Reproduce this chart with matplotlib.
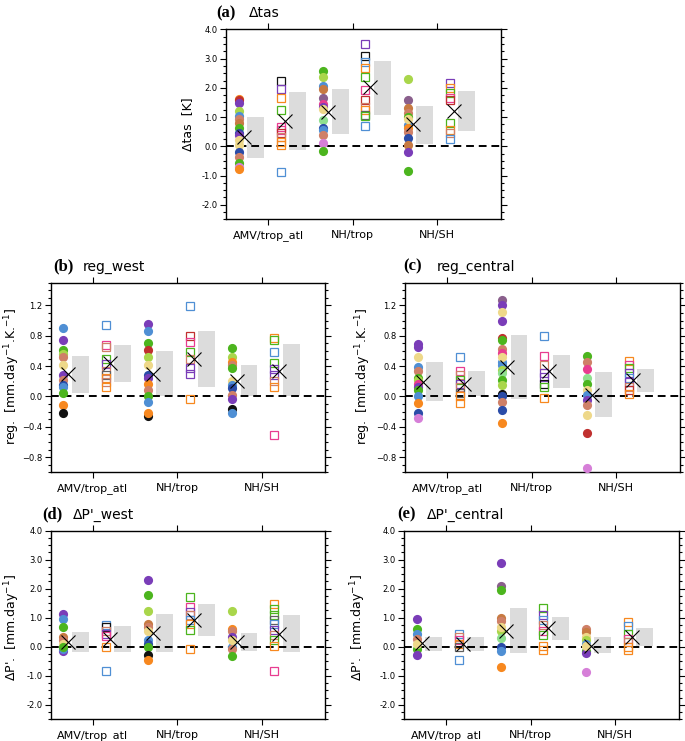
import numpy as np
import matplotlib.pyplot as plt
from matplotlib.ticker import MultipleLocator, FuncFormatter

categories = ['AMV/trop_atl', 'NH/trop', 'NH/SH']

# model colours (short keys used in the colour lists below)
colors = {
    'O': '#f7881f', 'B': '#4f8fd4', 'P': '#7a3db8', 'G': '#4cb51e',
    'L': '#a9d64b', 'K': '#eed889', 'N': '#c77a42', 'S': '#cf8068',
    'D': '#2b4ca8', 'R': '#c0302f', 'I': '#e83c90', 'C': '#d67fd8',
    'M': '#8fe08f', 'V': '#8a5f8c', 'X': '#111111', 'Y': '#606060',
}

# ---- (a) delta tas ----
a_circ = [
    [1.62, 1.58, 1.49, 1.21, 1.05, 0.92, 0.80, 0.62, 0.47, 0.38, 0.05, -0.18, -0.35, -0.57, -0.70, -0.78, 0.22],
    [2.59, 2.36, 2.06, 1.95, 1.64, 1.45, 1.36, 0.90, 0.62, 0.56, 0.39, 0.10, -0.15, 1.26],
    [2.30, 1.58, 1.30, 1.13, 1.01, 0.73, 0.62, 0.50, 0.27, 0.05, -0.20, -0.83, 0.93],
]
a_circ_col = [
    ['O', 'R', 'P', 'L', 'B', 'S', 'N', 'G', 'D', 'P', 'K', 'D', 'S', 'G', 'C', 'O', 'K'],
    ['G', 'L', 'B', 'N', 'V', 'I', 'P', 'M', 'D', 'B', 'S', 'C', 'G', 'K'],
    ['L', 'V', 'N', 'S', 'G', 'B', 'O', 'S', 'D', 'N', 'P', 'G', 'K'],
]
a_sq = [
    [2.24, 1.95, 1.66, 1.24, 0.67, 0.56, 0.44, 0.33, 0.16, 0.05, -0.89],
    [3.49, 3.09, 2.89, 2.67, 2.38, 1.93, 1.58, 1.36, 1.24, 1.07, 1.04, 0.70],
    [2.15, 1.98, 1.81, 1.66, 1.58, 0.79, 0.56, 0.44, 0.24],
]
a_sq_col = [
    ['X', 'P', 'O', 'G', 'I', 'I', 'R', 'S', 'O', 'O', 'B'],
    ['P', 'X', 'B', 'O', 'G', 'I', 'R', 'S', 'O', 'Y', 'G', 'B'],
    ['P', 'O', 'G', 'I', 'R', 'G', 'O', 'S', 'B'],
]
a_mean_circ = [0.33, 1.19, 0.76]
a_mean_sq = [0.88, 2.02, 1.22]
a_box_circ = [(-0.39, 0.99), (0.42, 1.95), (0.08, 1.39)]
a_box_sq = [(-0.12, 1.85), (1.07, 2.93), (0.54, 1.90)]

# ---- (b) reg_west ----
b_circ = [
    [0.90, 0.75, 0.61, 0.56, 0.52, 0.41, 0.28, 0.22, 0.15, 0.12, 0.04, -0.11, -0.22],
    [0.96, 0.86, 0.70, 0.61, 0.52, 0.41, 0.28, 0.24, 0.17, 0.09, 0.00, -0.07, -0.26, -0.22],
    [0.64, 0.52, 0.46, 0.41, 0.37, 0.21, 0.15, 0.11, 0.02, -0.03, -0.16, -0.22],
]
b_circ_col = [
    ['B', 'P', 'G', 'L', 'S', 'K', 'P', 'S', 'D', 'B', 'G', 'O', 'X'],
    ['P', 'B', 'G', 'R', 'L', 'K', 'D', 'P', 'O', 'S', 'G', 'B', 'X', 'O'],
    ['G', 'L', 'O', 'S', 'G', 'K', 'B', 'D', 'S', 'P', 'X', 'B'],
]
b_sq = [
    [0.94, 0.68, 0.65, 0.49, 0.43, 0.34, 0.28, 0.24, 0.19, 0.12],
    [1.19, 0.80, 0.72, 0.58, 0.50, 0.37, 0.30, -0.03],
    [0.77, 0.74, 0.58, 0.44, 0.36, 0.28, 0.21, 0.13, -0.51],
]
b_sq_col = [
    ['B', 'I', 'S', 'G', 'P', 'S', 'Y', 'O', 'S', 'O'],
    ['B', 'R', 'I', 'G', 'S', 'P', 'P', 'O'],
    ['O', 'G', 'B', 'G', 'P', 'P', 'S', 'O', 'I'],
]
b_mean_circ = [0.29, 0.30, 0.20]
b_mean_sq = [0.44, 0.49, 0.33]
b_box_circ = [(0.04, 0.53), (0.01, 0.60), (0.00, 0.42)]
b_box_sq = [(0.19, 0.68), (0.13, 0.86), (0.00, 0.69)]

# ---- (c) reg_central ----
c_circ = [
    [0.69, 0.65, 0.52, 0.39, 0.34, 0.24, 0.22, 0.17, 0.13, 0.09, 0.00, -0.08, -0.22, -0.29],
    [1.27, 1.21, 1.11, 1.00, 0.77, 0.75, 0.62, 0.57, 0.46, 0.41, 0.35, 0.31, 0.22, 0.15,
     0.03, 0.00, -0.07, -0.18, -0.35, 0.52],
    [0.53, 0.45, 0.36, 0.25, 0.16, 0.09, 0.02, -0.05, -0.11, -0.25, -0.48, -0.94],
]
c_circ_col = [
    ['P', 'P', 'K', 'B', 'S', 'G', 'L', 'I', 'P', 'G', 'B', 'O', 'D', 'C'],
    ['V', 'P', 'K', 'P', 'R', 'G', 'S', 'I', 'B', 'B', 'L', 'M', 'G', 'L',
     'X', 'D', 'S', 'D', 'O', 'K'],
    ['G', 'S', 'I', 'M', 'G', 'K', 'B', 'P', 'S', 'K', 'R', 'C'],
]
c_sq = [
    [0.52, 0.33, 0.28, 0.22, 0.17, 0.12, 0.04, 0.00, -0.09],
    [0.80, 0.53, 0.41, 0.31, 0.26, 0.16, 0.12, -0.02],
    [0.47, 0.41, 0.37, 0.31, 0.25, 0.19, 0.13, 0.08, 0.03],
]
c_sq_col = [
    ['B', 'I', 'S', 'G', 'P', 'S', 'Y', 'O', 'O'],
    ['B', 'I', 'S', 'P', 'P', 'X', 'G', 'O'],
    ['O', 'I', 'G', 'P', 'B', 'P', 'S', 'R', 'O'],
]
c_mean_circ = [0.19, 0.39, 0.02]
c_mean_sq = [0.17, 0.33, 0.22]
c_box_circ = [(-0.06, 0.46), (-0.04, 0.81), (-0.27, 0.32)]
c_box_sq = [(0.01, 0.34), (0.11, 0.55), (0.06, 0.36)]

# ---- (d) delta P' west ----
d_circ = [
    [1.12, 0.97, 0.68, 0.33, 0.24, -0.13, -0.07, 0.10, 0.00],
    [2.29, 1.80, 1.22, 0.77, 0.68, 0.22, 0.10, 0.00, -0.30, -0.47, 0.56],
    [1.22, 0.62, 0.54, 0.33, 0.00, -0.07, -0.33, 0.22],
]
d_circ_col = [
    ['P', 'B', 'G', 'N', 'S', 'P', 'B', 'K', 'G'],
    ['P', 'G', 'L', 'N', 'S', 'B', 'D', 'G', 'X', 'O', 'K'],
    ['L', 'O', 'S', 'P', 'B', 'S', 'G', 'K'],
]
d_sq = [
    [0.76, 0.68, 0.56, 0.45, 0.36, 0.00, -0.84],
    [1.72, 1.37, 1.20, 1.08, 0.93, 0.80, 0.59, -0.07],
    [1.49, 1.31, 1.08, 0.91, 0.77, 0.59, 0.39, 0.22, 0.02, -0.84],
]
d_sq_col = [
    ['B', 'X', 'S', 'P', 'I', 'O', 'B'],
    ['G', 'I', 'P', 'S', 'B', 'O', 'G', 'O'],
    ['O', 'G', 'G', 'Y', 'B', 'P', 'S', 'G', 'O', 'I'],
]
d_mean_circ = [0.16, 0.47, 0.16]
d_mean_sq = [0.28, 0.91, 0.45]
d_box_circ = [(-0.18, 0.51), (-0.18, 1.12), (-0.13, 0.47)]
d_box_sq = [(-0.18, 0.71), (0.37, 1.49), (-0.18, 1.08)]

# ---- (e) delta P' central ----
e_circ = [
    [0.95, 0.62, 0.45, 0.28, -0.07, -0.28, 0.10],
    [2.87, 2.10, 1.95, 1.00, 0.89, 0.56, 0.31, 0.00, -0.15, -0.70, 0.68],
    [0.62, 0.51, 0.33, 0.22, 0.10, -0.13, -0.22, -0.88, 0.02],
]
e_circ_col = [
    ['P', 'G', 'B', 'S', 'G', 'P', 'K'],
    ['P', 'V', 'G', 'N', 'S', 'L', 'M', 'D', 'B', 'O', 'K'],
    ['S', 'N', 'K', 'L', 'B', 'G', 'P', 'C', 'K'],
]
e_sq = [
    [0.45, 0.33, 0.22, 0.08, 0.00, -0.45],
    [1.35, 1.08, 0.91, 0.74, 0.56, 0.39, 0.02, -0.10],
    [0.85, 0.70, 0.45, 0.28, 0.16, 0.00, -0.10],
]
e_sq_col = [
    ['B', 'S', 'I', 'O', 'Y', 'B'],
    ['G', 'P', 'B', 'S', 'I', 'G', 'O', 'O'],
    ['O', 'B', 'G', 'I', 'S', 'O', 'O'],
]
e_mean_circ = [0.13, 0.56, 0.02]
e_mean_sq = [0.08, 0.66, 0.33]
e_box_circ = [(-0.13, 0.33), (-0.22, 1.34), (-0.22, 0.33)]
e_box_sq = [(-0.15, 0.33), (0.22, 1.03), (0.02, 0.65)]


def draw_panel(ax, circ, circ_col, sq, sq_col, mean_circ, mean_sq, box_circ, box_sq,
               ylim, major, minor, true_minus):
    for i in range(len(categories)):
        # grey range boxes
        for (lo, hi), off in ((box_circ[i], -0.15), (box_sq[i], 0.35)):
            ax.bar(i + off, hi - lo, bottom=lo, width=0.2, color='#dcdcdc', zorder=1)
        for v, c in zip(circ[i], circ_col[i]):
            ax.plot(i - 0.35, v, 'o', ms=6.6, color=colors[c], mec='none', zorder=3)
        for v, c in zip(sq[i], sq_col[i]):
            ax.plot(i + 0.15, v, 's', ms=5.8, mfc='none', mec=colors[c], mew=0.9, zorder=3)
        ax.plot(i - 0.29, mean_circ[i], 'x', ms=9.5, color='k', mew=0.8, zorder=5)
        ax.plot(i + 0.20, mean_sq[i], 'x', ms=9.5, color='k', mew=0.8, zorder=5)
    ax.axhline(0, color='k', lw=1.4, ls=(0, (4, 2.5)), zorder=2)

    ax.set_xlim(-0.5, 2.75)
    ax.set_ylim(*ylim)
    ax.set_xticks(range(len(categories)))
    ax.set_xticklabels(categories, fontsize=8)
    ax.yaxis.set_major_locator(MultipleLocator(major))
    ax.yaxis.set_minor_locator(MultipleLocator(minor))

    def fmt(v, pos):
        s = f'{v:.1f}'
        if s == '-0.0':
            s = '0.0'
        return s.replace('-', '\u2212') if true_minus else s
    ax.yaxis.set_major_formatter(FuncFormatter(fmt))
    ax.tick_params(axis='y', which='both', direction='out', left=True, right=True,
                   labelsize=6, pad=1.5, width=0.8)
    ax.tick_params(axis='y', which='major', length=4.5)
    ax.tick_params(axis='y', which='minor', length=2.2)
    ax.tick_params(axis='x', which='major', direction='out', top=True, bottom=True,
                   length=4.5, width=0.8, pad=3)
    for sp in ax.spines.values():
        sp.set_linewidth(1.0)


fig = plt.figure(figsize=(6.85, 7.41), dpi=100)

reg_label = 'reg.  [mm.day$^{-1}$.K.$^{-1}$]'
dp_label = "\u0394P'.  [mm.day$^{-1}$]"

panels = [
    # rect, letter, title, ylabel, data, ylim, major, minor, minus, label x/y, letter x, title x
    ([0.3299, 0.7039, 0.4009, 0.2565], '(a)', '\u0394tas', '\u0394tas  [K]',
     (a_circ, a_circ_col, a_sq, a_sq_col, a_mean_circ, a_mean_sq, a_box_circ, a_box_sq),
     (-2.5, 4.0), 1.0, 0.25, False, (-0.115, 0.5), -0.034, 0.085),
    ([0.0740, 0.3626, 0.4004, 0.2559], '(b)', 'reg_west', reg_label,
     (b_circ, b_circ_col, b_sq, b_sq_col, b_mean_circ, b_mean_sq, b_box_circ, b_box_sq),
     (-1.0, 1.5), 0.4, 0.1, True, (-0.105, 0.508), 0.008, 0.118),
    ([0.5912, 0.3626, 0.4009, 0.2559], '(c)', 'reg_central', reg_label,
     (c_circ, c_circ_col, c_sq, c_sq_col, c_mean_circ, c_mean_sq, c_box_circ, c_box_sq),
     (-1.0, 1.5), 0.4, 0.1, True, (-0.118, 0.508), -0.007, 0.115),
    ([0.0740, 0.0293, 0.4004, 0.2545], '(d)', "\u0394P'_west", dp_label,
     (d_circ, d_circ_col, d_sq, d_sq_col, d_mean_circ, d_mean_sq, d_box_circ, d_box_sq),
     (-2.5, 4.0), 1.0, 0.25, False, (-0.105, 0.485), -0.029, 0.082),
    ([0.5898, 0.0293, 0.4009, 0.2545], '(e)', "\u0394P'_central", dp_label,
     (e_circ, e_circ_col, e_sq, e_sq_col, e_mean_circ, e_mean_sq, e_box_circ, e_box_sq),
     (-2.5, 4.0), 1.0, 0.25, False, (-0.13, 0.485), -0.026, 0.084),
]

for rect, letter, title, ylab, data, ylim, major, minor, minus, lxy, tx, nx in panels:
    ax = fig.add_axes(rect)
    draw_panel(ax, *data, ylim, major, minor, minus)
    ax.set_ylabel(ylab, fontsize=9)
    ax.yaxis.set_label_coords(*lxy)
    ax.text(tx, 1.085, letter, transform=ax.transAxes, fontsize=12, fontweight='bold',
            family='Liberation Serif', va='center', ha='left')
    ax.text(nx, 1.085, title, transform=ax.transAxes, fontsize=10, va='center', ha='left')

fig.savefig('out.png', dpi=100)
